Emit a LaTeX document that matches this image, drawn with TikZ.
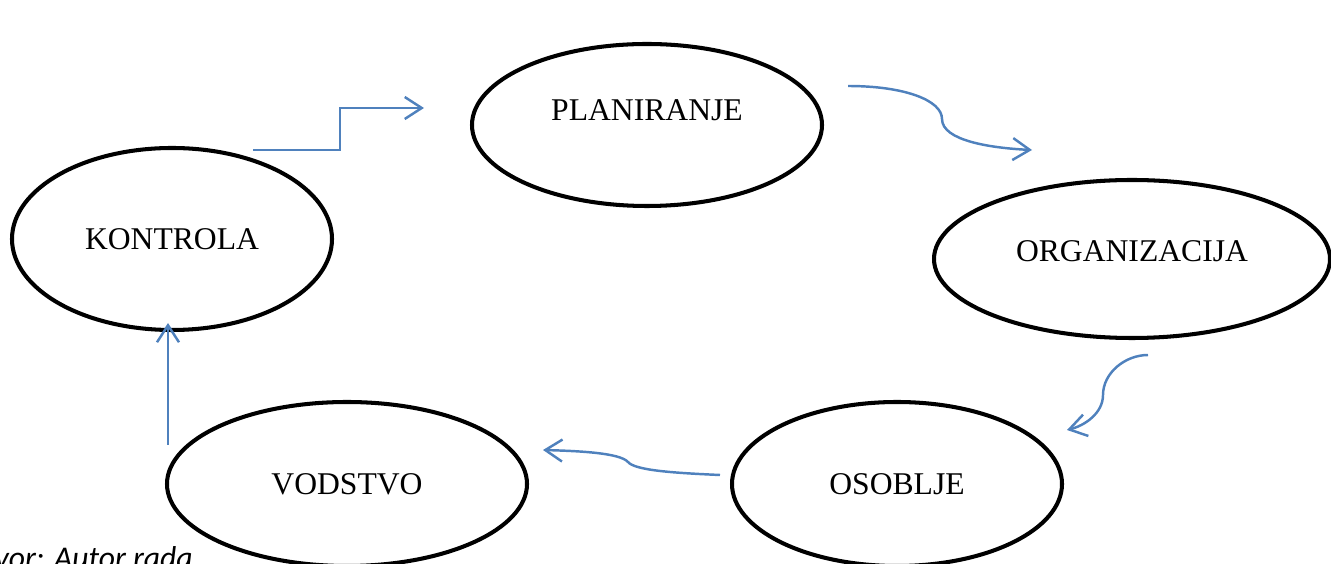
\documentclass[tikz,border=0pt]{standalone}
\usepackage{fontspec}
\setmainfont{Liberation Serif}
\newfontfamily\captionfont{Carlito}
\usetikzlibrary{positioning}
\usetikzlibrary{shapes.geometric}
\usetikzlibrary{arrows.meta}
\definecolor{cyclblue}{RGB}{79,129,189}

\begin{document}
\begin{tikzpicture}[
        phase/.style={draw=black, ellipse, line width=2.3pt, inner sep=0pt, font=\fontsize{18}{22}\selectfont},
        flow/.style={draw=cyclblue, line width=1.4pt, -{Straight Barb[length=3.4mm,width=4.4mm,line width=1.4pt]}}]

        \useasboundingbox (0,0) rectangle (26.62,11.26);

        % Ellipses
        \node[phase, minimum width=7.0cm, minimum height=3.24cm, text depth=0.6cm] (plan) at (12.94,8.76) {PLANIRANJE};
        \node[phase, minimum width=7.92cm, minimum height=3.16cm, text depth=0.3cm] (org) at (22.64,6.08) {ORGANIZACIJA};
        \node[phase, minimum width=6.6cm, minimum height=3.28cm] (osob) at (17.94,1.58) {OSOBLJE};
        \node[phase, minimum width=7.2cm, minimum height=3.28cm] (vod) at (6.94,1.58) {VODSTVO};
        \node[phase, minimum width=6.4cm, minimum height=3.64cm] (kon) at (3.44,6.48) {KONTROLA};

        % Arrow ends
        \coordinate (konOut) at (5.06,8.26);
        \coordinate (planIn) at (8.48,9.10);
        \coordinate (planOut) at (16.96,9.54);
        \coordinate (orgIn) at (20.64,8.26);
        \coordinate (orgOut) at (22.96,4.16);
        \coordinate (osobIn) at (21.34,2.66);
        \coordinate (osobOut) at (14.40,1.76);
        \coordinate (vodIn) at (10.86,2.26);
        \coordinate (vodOut) at (3.36,2.36);
        \coordinate (konIn) at (3.36,4.80);

        % Arrows
        \draw[flow] (konOut) -- ++(1.74,0) |- (planIn);
        \draw[flow] (planOut) .. controls (18.1,9.54) and (18.84,9.25) .. (18.84,8.88)
            .. controls (18.84,8.45) and (19.8,8.3) .. (orgIn);
        \draw[flow] (orgOut) .. controls (22.5,4.16) and (22.06,3.8) .. (22.06,3.36)
            .. controls (22.06,3.0) and (21.7,2.75) .. (osobIn);
        \draw[flow] (osobOut) .. controls (13.5,1.8) and (12.7,1.85) .. (12.56,2.02)
            .. controls (12.4,2.2) and (11.6,2.24) .. (vodIn);
        \draw[flow] (vodOut) -- (konIn);

        % Source line
        \node[anchor=base east, inner sep=0pt, font=\captionfont\itshape\fontsize{18}{21}\selectfont] (src) at (3.86,-0.1) {Izvor: Autor rada};

    \end{tikzpicture}
\end{document}
